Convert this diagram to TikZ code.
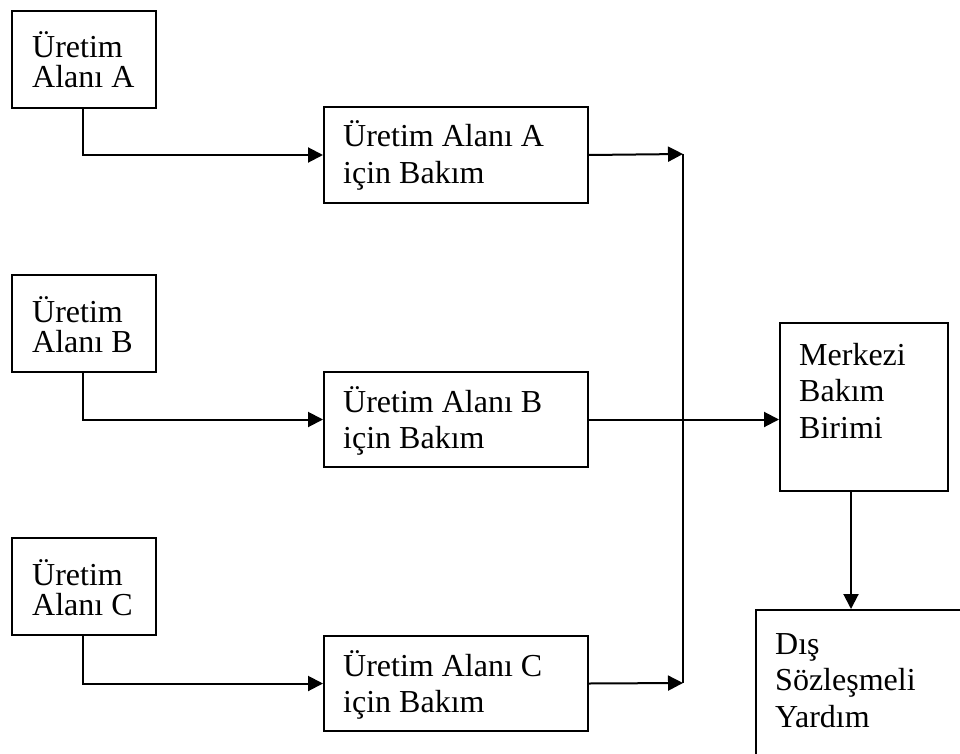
\documentclass[tikz,border=0pt]{standalone}
\usepackage{fontspec}
\setmainfont{Liberation Serif}
\usetikzlibrary{arrows.meta}

\begin{document}
\begin{tikzpicture}[x=1pt,y=-1pt,
  box/.style={draw, line width=2pt, anchor=north west, inner sep=0pt},
  txt/.style={anchor=base west, inner sep=0pt},
  tight/.style={txt, font=\fontsize{32}{30}\selectfont},
  loose/.style={txt, font=\fontsize{32}{36.5}\selectfont},
  conn/.style={line width=2pt},
  arr/.style={conn, -{Triangle[length=15pt,width=15pt]}}]

\clip (0,0) rectangle (960,754);
\fill[white] (0,0) rectangle (960,754);

% production areas
\node[box, minimum width=144pt, minimum height=97pt] (srcA) at (11,10) {};
\node[box, minimum width=144pt, minimum height=97pt] (srcB) at (11,274) {};
\node[box, minimum width=144pt, minimum height=97pt] (srcC) at (11,537) {};
\node[tight] (srcAt) at (32,58)  {\parbox[t]{120pt}{Üretim\\Alanı A}};
\node[tight] (srcBt) at (32,322) {\parbox[t]{120pt}{Üretim\\Alanı B}};
\node[tight] (srcCt) at (32,585) {\parbox[t]{120pt}{Üretim\\Alanı C}};

% maintenance per area
\node[box, minimum width=264pt, minimum height=96pt] (mntA) at (323,106) {};
\node[box, minimum width=264pt, minimum height=95pt] (mntB) at (323,371) {};
\node[box, minimum width=264pt, minimum height=95pt] (mntC) at (323,635) {};
\node[loose] (mntAt) at (343,147) {\parbox[t]{240pt}{Üretim Alanı A\\için Bakım}};
\node[loose] (mntBt) at (343,412) {\parbox[t]{240pt}{Üretim Alanı B\\için Bakım}};
\node[loose] (mntCt) at (343,676) {\parbox[t]{240pt}{Üretim Alanı C\\için Bakım}};

% central unit and outside help
\node[box, minimum width=168pt, minimum height=168pt] (merk) at (779,322) {};
\node[loose] (merkt) at (799,365) {\parbox[t]{140pt}{Merkezi\\Bakım\\Birimi}};
\node[box, minimum width=220pt, minimum height=160pt] (dis) at (755,609) {};
\node[loose] (dist) at (775,654) {\parbox[t]{170pt}{Dış\\Sözleşmeli\\Yardım}};

% junction points on the collecting line
\coordinate (jA) at (683,154);
\coordinate (jC) at (683,683);

% connectors
\draw[arr] (srcA.south -| 83,0) |- (mntA.west);
\draw[arr] (srcB.south -| 83,0) |- (mntB.west);
\draw[arr] (srcC.south -| 83,0) |- (mntC.west);
\draw[arr] (mntA.east) -- (jA);
\draw[arr] (mntC.east) -- (jC);
\draw[conn] (jA) -- (jC);
\draw[arr] (mntB.east) -- (mntB.east -| merk.west);
\draw[arr] (merk.south -| 851,0) -- (dis.north -| 851,0);

\end{tikzpicture}
\end{document}
